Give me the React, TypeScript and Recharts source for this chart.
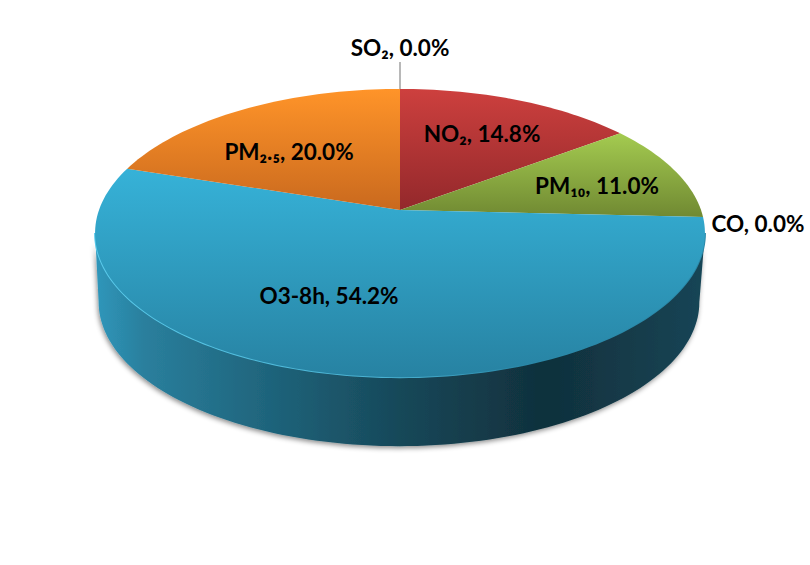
import React from "react";
import { PieChart, Pie } from "recharts";

const names = ["SO₂", "NO₂", "PM₁₀", "CO", "O3-8h", "PM₂.₅"];
const shares = [0.0, 14.8, 11.0, 0.0, 54.2, 20.0];
const tableRows = names.map((name, i) => ({ name, value: shares[i] }));

// Styling and layout (not data)
const W = 810, H = 565;
const CX = 400, CY = 210, R = 301;
const SQUASH = 0.4665, PERSP = 0.16, DEPTH = 69, BOTTOM_SCALE = 0.985, BOTTOM_SHIFT = -1;
const topColors = [
  ["#888", "#888"],
  ["#CD403E", "#93282B"],
  ["#A4CB50", "#708932"],
  ["#888", "#888"],
  ["#36B2D8", "#2782A2"],
  ["#FF9429", "#C9691E"],
];
const labelCentres = [
  [400, 47], [482, 133], [597, 185], [758, 223], [329, 295], [289, 151],
];

const project = (deg: number, cx: number, cy: number, r: number, q = 1) => {
  const a = (deg * Math.PI) / 180;
  const u = Math.cos(a) * q;
  const v = -Math.sin(a) * q;
  const d = 1 - PERSP * v;
  return [cx + (r * u) / d, cy + (r * SQUASH * v) / d];
};

const arcPoints = (from: number, to: number, cx: number, cy: number, r: number) => {
  const n = Math.max(2, Math.ceil(Math.abs(from - to) / 1.5));
  const out: number[][] = [];
  for (let i = 0; i <= n; i++) out.push(project(from + ((to - from) * i) / n, cx, cy, r));
  return out;
};
const toPath = (pts: number[][]) =>
  pts.map((p, i) => `${i ? "L" : "M"}${p[0].toFixed(2)},${p[1].toFixed(2)}`).join(" ");

const TANGENT = (Math.asin(PERSP) * 180) / Math.PI;

const TopShape = (props: any) => {
  const { cx, cy, outerRadius, startAngle, endAngle, index } = props;
  if (Math.abs(startAngle - endAngle) < 0.01) return null;
  const pts = [[cx, cy], ...arcPoints(startAngle, endAngle, cx, cy, outerRadius)];
  return <path d={toPath(pts) + " Z"} fill={`url(#top${index})`} stroke="none" />;
};

const SideShape = (props: any) => {
  const { cx, cy, outerRadius, startAngle, endAngle } = props;
  const from = Math.min(startAngle, -TANGENT);
  const to = Math.max(endAngle, -180 + TANGENT);
  if (from <= to) return null;
  const rim = arcPoints(from, to, cx, cy, outerRadius);
  const low = rim
    .map((p) => [CX + BOTTOM_SHIFT + (p[0] - CX) * BOTTOM_SCALE, p[1] + DEPTH])
    .reverse();
  return (
    <g>
      <path d={toPath([...rim, ...low]) + " Z"} fill="url(#side)" filter="url(#soft)" />
      <path d={toPath(rim)} fill="none" stroke="url(#rim)" strokeWidth={2} />
    </g>
  );
};

const renderLabel = (props: any) => {
  const { index, name, value } = props;
  const [x, y] = labelCentres[index];
  return (
    <g key={index}>
      {index === 0 && <line x1={x} y1={62} x2={x} y2={89} stroke="#a0a0a0" strokeWidth={1.5} />}
      <text
        x={x}
        y={y}
        textAnchor="middle"
        dominantBaseline="central"
        fontFamily="Lato, 'Noto Sans', sans-serif"
        fontWeight={700}
        fontSize={22.5}
        fill="#000"
      >
        {`${name}, ${value.toFixed(1)}%`}
      </text>
    </g>
  );
};

export default function App() {
  return (
    <div style={{ position: "absolute", left: 0, top: 0, width: W, height: H, background: "#fff" }}>
      <PieChart width={W} height={H} margin={{ top: 0, right: 0, bottom: 0, left: 0 }}>
        <defs>
          {topColors.map((c, i) => (
            <linearGradient key={i} id={`top${i}`} x1="0" y1="0" x2="0" y2="1">
              <stop offset="0%" stopColor={c[0]} />
              <stop offset="100%" stopColor={c[1]} />
            </linearGradient>
          ))}
          <linearGradient id="side" x1="0" y1="0" x2="1" y2="0">
            <stop offset="0%" stopColor="#2F97BB" />
            <stop offset="8%" stopColor="#2A7F9D" />
            <stop offset="30%" stopColor="#1E6279" />
            <stop offset="50%" stopColor="#174859" />
            <stop offset="74%" stopColor="#10303C" />
            <stop offset="90%" stopColor="#143D4C" />
            <stop offset="100%" stopColor="#164556" />
          </linearGradient>
          <linearGradient id="rim" x1="0" y1="0" x2="1" y2="0">
            <stop offset="0%" stopColor="#5ACBEC" />
            <stop offset="50%" stopColor="#48AFCF" />
            <stop offset="70%" stopColor="#2A88A8" />
            <stop offset="100%" stopColor="#2A88A8" />
          </linearGradient>
          <filter id="soft" x="-5%" y="-5%" width="110%" height="115%">
            <feDropShadow dx={-1} dy={2} stdDeviation={2.5} floodColor="#000" floodOpacity={0.45} />
          </filter>
        </defs>
        <Pie
          data={tableRows}
          dataKey="value"
          nameKey="name"
          cx={CX}
          cy={CY}
          innerRadius={0}
          outerRadius={R}
          startAngle={90}
          endAngle={-270}
          stroke="none"
          isAnimationActive={false}
          shape={SideShape}
          label={false}
          labelLine={false}
        />
        <Pie
          data={tableRows}
          dataKey="value"
          nameKey="name"
          cx={CX}
          cy={CY}
          innerRadius={0}
          outerRadius={R}
          startAngle={90}
          endAngle={-270}
          stroke="none"
          isAnimationActive={false}
          shape={TopShape}
          label={renderLabel}
          labelLine={false}
        />
      </PieChart>
    </div>
  );
}
